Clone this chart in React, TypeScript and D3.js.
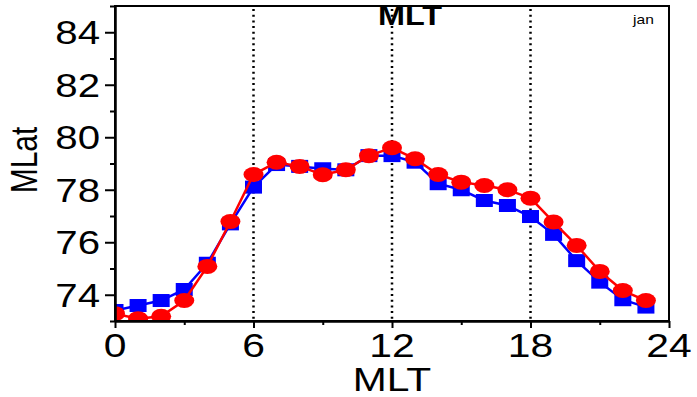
import React, { useEffect, useRef } from "react";
import * as d3 from "d3";

// magnetic local time, hours
const mlt = [0, 1, 2, 3, 4, 5, 6, 7, 8, 9, 10, 11, 12, 13, 14, 15, 16, 17, 18, 19, 20, 21, 22, 23];
// blue squares
const blueLat = [73.4, 73.59, 73.78, 74.2, 75.2, 76.7, 78.1, 78.96, 78.89, 78.8, 78.76, 79.3, 79.3, 79.05, 78.23, 78.0, 77.59, 77.4, 76.98, 76.3, 75.3, 74.48, 73.81, 73.53];
// red circles
const redLat = [73.28, 73.09, 73.18, 73.78, 75.08, 76.79, 78.58, 79.05, 78.89, 78.57, 78.76, 79.3, 79.6, 79.18, 78.58, 78.29, 78.16, 78.0, 77.68, 76.77, 75.88, 74.89, 74.16, 73.78];

const xTicks = [0, 6, 12, 18, 24];
const xMinor = [3, 9, 15, 21];
const yTicks = [74, 76, 78, 80, 82, 84];
const yMinor = [73, 75, 77, 79, 81, 83, 85];
const guideLines = [6, 12, 18];

const App = () => {
  const svgRef = useRef<SVGSVGElement>(null);

  useEffect(() => {
    const svg = d3.select(svgRef.current);
    svg.selectAll("*").remove();

    const left = 115, right = 669, top = 6, bottom = 321;
    const x = d3.scaleLinear().domain([0, 24]).range([left, right]);
    const y = d3.scaleLinear().domain([73, 85]).range([bottom, top]);
    const font = "'Liberation Sans', Arial, sans-serif";
    const stretch = 1.2; // the original is a bit wide

    svg.append("defs").append("clipPath").attr("id", "plot")
      .append("rect")
      .attr("x", left).attr("y", top)
      .attr("width", right - left).attr("height", bottom - top);

    // dotted guides
    svg.selectAll(".guide")
      .data(guideLines)
      .enter()
      .append("line")
      .attr("x1", d => x(d)).attr("x2", d => x(d))
      .attr("y1", top + 3).attr("y2", bottom)
      .attr("stroke", "#000")
      .attr("stroke-width", 2.5)
      .attr("stroke-dasharray", "2,3.7");

    const plot = svg.append("g").attr("clip-path", "url(#plot)");
    const line = d3.line<number>().x((d, i) => x(mlt[i])).y(d => y(d));

    plot.append("path").datum(blueLat)
      .attr("d", line).attr("fill", "none")
      .attr("stroke", "#0000ff").attr("stroke-width", 2.5);
    plot.selectAll(".sq")
      .data(blueLat)
      .enter()
      .append("rect")
      .attr("x", (d, i) => x(mlt[i]) - 8.5)
      .attr("y", d => y(d) - 6.5)
      .attr("width", 17).attr("height", 13)
      .attr("fill", "#0000ff");

    plot.append("path").datum(redLat)
      .attr("d", line).attr("fill", "none")
      .attr("stroke", "#ff0000").attr("stroke-width", 2.5);
    plot.selectAll(".dot")
      .data(redLat)
      .enter()
      .append("ellipse")
      .attr("cx", (d, i) => x(mlt[i]))
      .attr("cy", d => y(d))
      .attr("rx", 10).attr("ry", 7.5)
      .attr("fill", "#ff0000");

    // frame
    svg.append("rect")
      .attr("x", left).attr("y", top)
      .attr("width", right - left).attr("height", bottom - top)
      .attr("fill", "none").attr("stroke", "#000").attr("stroke-width", 2);

    // axes (ticks only, labels drawn by hand below)
    const yAxis = svg.append("g").attr("transform", `translate(${left},0)`)
      .call(d3.axisLeft(y).tickValues(yTicks).tickSize(10).tickSizeOuter(0).tickFormat(() => ""));
    const yAxisMinor = svg.append("g").attr("transform", `translate(${left},0)`)
      .call(d3.axisLeft(y).tickValues(yMinor).tickSize(5).tickSizeOuter(0).tickFormat(() => ""));
    const xAxis = svg.append("g").attr("transform", `translate(0,${bottom})`)
      .call(d3.axisBottom(x).tickValues(xTicks).tickSize(7).tickSizeOuter(0).tickFormat(() => ""));
    const xAxisMinor = svg.append("g").attr("transform", `translate(0,${bottom})`)
      .call(d3.axisBottom(x).tickValues(xMinor).tickSize(4).tickSizeOuter(0).tickFormat(() => ""));
    [yAxis, yAxisMinor, xAxis, xAxisMinor].forEach(g => {
      g.select(".domain").attr("stroke-width", 2);
      g.selectAll(".tick line").attr("stroke-width", 2);
    });

    const label = (tx: number, ty: number, text: string, size: number, anchor: string, weight = "normal", rot = 0) =>
      svg.append("text")
        .attr("transform", `translate(${tx},${ty}) rotate(${rot}) scale(${rot ? 1 : stretch},${rot ? stretch : 1})`)
        .attr("text-anchor", anchor)
        .style("font-family", font)
        .style("font-size", size + "px")
        .style("font-weight", weight)
        .attr("fill", "#000")
        .text(text);

    yTicks.forEach(v => label(100, y(v) + 12, String(v), 33.5, "end"));
    xTicks.forEach(v => label(x(v), 357, String(v), 34, "middle"));

    label(392, 391, "MLT", 34, "middle");
    label(37, 160, "MLat", 30, "middle", "normal", -90);
    label(410, 25, "MLT", 27, "middle", "bold");
    label(633, 24, "jan", 13, "start");
  }, []);

  return (
    <svg
      ref={svgRef}
      width={697}
      height={397}
      style={{ position: "absolute", left: 0, top: 0, background: "#fff" }}
    />
  );
};

export default App;
